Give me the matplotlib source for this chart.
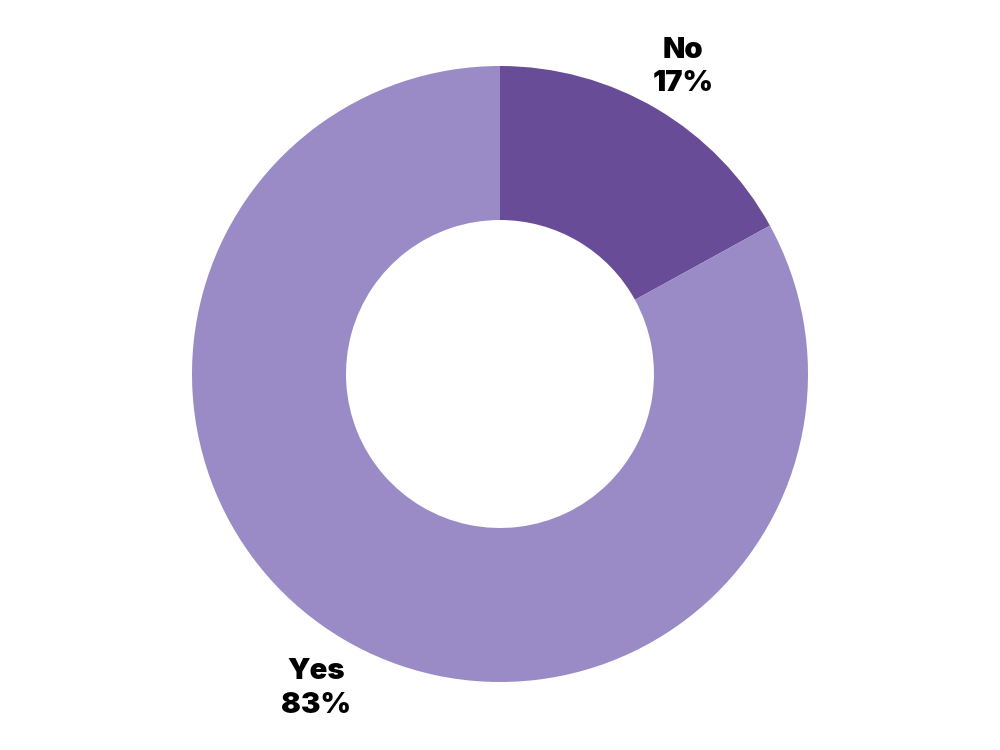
import matplotlib
matplotlib.use("Agg")
import matplotlib.pyplot as plt

labels = ["No", "Yes"]
values = [17, 83]
colors = ["#684C98", "#9A8AC5"]

fig = plt.figure(figsize=(10, 7.5), dpi=100)
ax = fig.add_axes([0, 0, 1, 1])

ax.pie(values, colors=colors, startangle=90, counterclock=False, radius=1.0,
       wedgeprops=dict(width=0.5, edgecolor="none"))

# pie resets the limits, so set them afterwards
r = 308.0
ax.set_xlim(-500 / r, 500 / r)
ax.set_ylim(-376 / r, 374 / r)
ax.set_aspect("equal")
ax.axis("off")

# label positions (data coords)
label_pos = [(0.594, 0.997), (-0.597, -1.021)]
for lab, v, (x, y) in zip(labels, values, label_pos):
    ax.text(x, y, f"{lab}\n{v}%", ha="center", va="center", fontsize=21,
            fontweight="black", family=["Inter", "DejaVu Sans"], color="black",
            linespacing=1.3)

fig.savefig("out.png", dpi=100)
